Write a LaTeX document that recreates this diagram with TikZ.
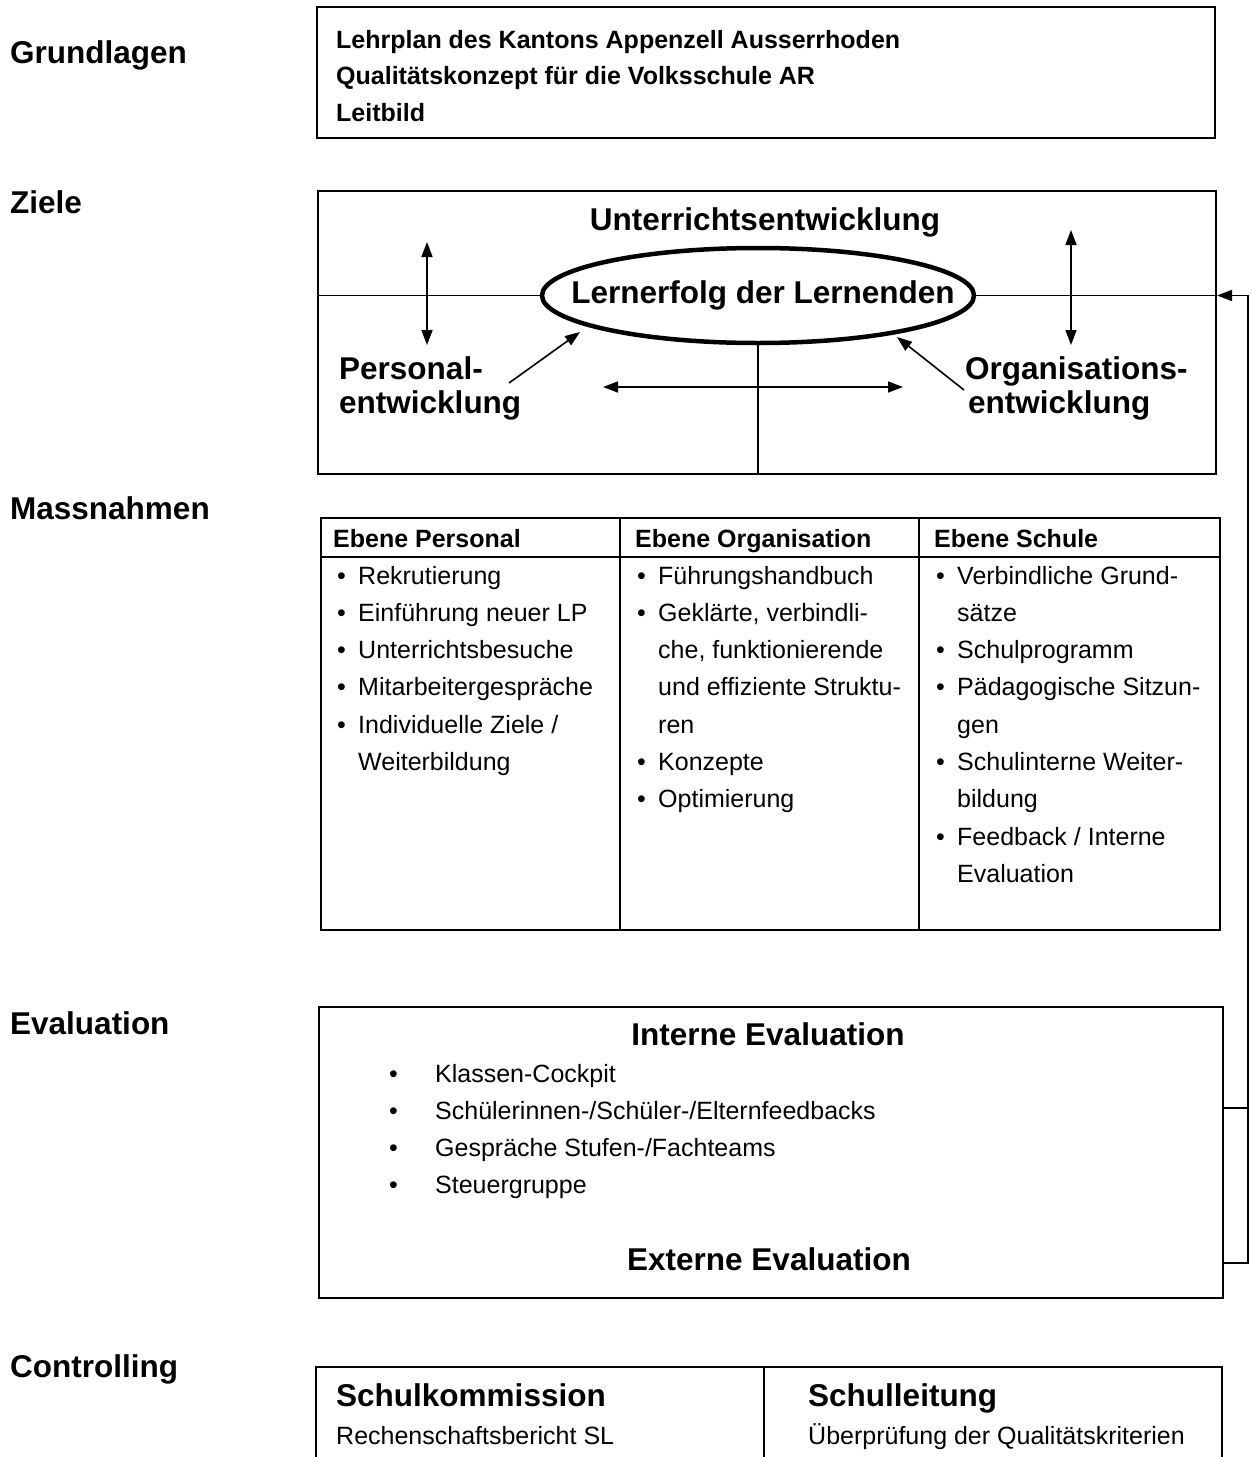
\documentclass[tikz,border=0pt]{standalone}
\usepackage{fontspec}
\setmainfont{Liberation Sans}
\usetikzlibrary{arrows.meta,shapes.geometric}
\begin{document}
\begin{tikzpicture}[x=1pt,y=-1pt,
  big/.style={font=\fontsize{31.5}{36}\selectfont\bfseries, inner sep=0pt, anchor=base west},
  txt/.style={font=\fontsize{25}{30}\selectfont, inner sep=0pt, anchor=base west},
  txtb/.style={font=\fontsize{25}{30}\selectfont\bfseries, inner sep=0pt, anchor=base west},
  frame/.style={draw, line width=2pt, inner sep=0pt, anchor=north west},
  tip/.tip={Triangle[length=15pt,width=11pt]},
  dbl/.style={line width=1.6pt, tip-tip},
  sgl/.style={line width=1.6pt, -tip},
  thinl/.style={line width=1.6pt}]
\useasboundingbox (0,0) rectangle (1251,1457);
\fill[white] (0,0) rectangle (1251,1457);

% left labels
\node[big] (lg) at (10,63) {Grundlagen};
\node[big] (lz) at (10,213) {Ziele};
\node[big] (lm) at (10,519) {Massnahmen};
\node[big] (le) at (10,1034) {Evaluation};
\node[big] (lc) at (10,1377) {Controlling};

% Grundlagen
\node[frame, minimum width=898pt, minimum height=131pt] (grund) at (316,6) {};
\node[txtb] (g1) at (336,48) {Lehrplan des Kantons Appenzell Ausserrhoden};
\node[txtb] (g2) at (336,84.5) {Qualitätskonzept für die Volksschule AR};
\node[txtb] (g3) at (336,121) {Leitbild};

% Ziele
\node[frame, minimum width=898pt, minimum height=283pt] (ziele) at (317,190) {};
\node[ellipse, draw, line width=4.5pt, minimum width=432pt, minimum height=95pt, inner sep=0pt] (ell) at (758,295.5) {};
\node[big, anchor=base] (lern) at (763,303) {Lernerfolg der Lernenden};
\node[big, anchor=base] (unt) at (765,230) {Unterrichtsentwicklung};
\node[big] (pe1) at (339,379) {Personal-};
\node[big] (pe2) at (339,413) {entwicklung};
\node[big] (oe1) at (965,379) {Organisations-};
\node[big] (oe2) at (968,413) {entwicklung};
\draw[thinl] (ziele.west |- ell.center) -- (ell.west);
\draw[thinl] (ell.east) -- (ziele.east |- ell.center);
\draw[thinl] (ell.south) -- (ell.south |- ziele.south);
\coordinate (lv1) at (427,242); \coordinate (lv2) at (427,345);
\coordinate (rv1) at (1071,230); \coordinate (rv2) at (1071,345);
\coordinate (h1) at (603,387); \coordinate (h2) at (903,387);
\coordinate (d1a) at (509,383); \coordinate (d1b) at (580,332);
\coordinate (d2a) at (964,390); \coordinate (d2b) at (897,337);
\draw[dbl] (lv1) -- (lv2);
\draw[dbl] (rv1) -- (rv2);
\draw[dbl] (h1) -- (h2);
\draw[sgl] (d1a) -- (d1b);
\draw[sgl] (d2a) -- (d2b);

% Massnahmen table
\node[frame, minimum width=899pt, minimum height=412pt] (tab) at (320,517) {};
\draw[thinl] (tab.west |- 0,557) -- (tab.east |- 0,557);
\draw[thinl] (620,517) -- (620,929);
\draw[thinl] (919,517) -- (919,929);
\node[txtb] (h1t) at (333,547) {Ebene Personal};
\node[txtb] (h2t) at (635,547) {Ebene Organisation};
\node[txtb] (h3t) at (934,547) {Ebene Schule};
% column 1
\foreach \t [count=\i from 0] in {Rekrutierung,Einführung neuer LP,Unterrichtsbesuche,Mitarbeitergespräche,{Individuelle Ziele /}}
  {\node[txt] (c1b\i) at (337,584+37.3*\i) {\textbullet};
   \node[txt] (c1t\i) at (358,584+37.3*\i) {\t};}
\node[txt] (c1x) at (358,584+37.3*5) {Weiterbildung};
% column 2
\foreach \t/\b [count=\i from 0] in {{Führungshandbuch}/1,{Geklärte, verbindli-}/1,{che, funktionierende}/0,{und effiziente Struktu-}/0,{ren}/0,{Konzepte}/1,{Optimierung}/1}
  {\ifnum\b=1 \node[txt] (c2b\i) at (637,584+37.3*\i) {\textbullet};\fi
   \node[txt] (c2t\i) at (658,584+37.3*\i) {\t};}
% column 3
\foreach \t/\b [count=\i from 0] in {{Verbindliche Grund-}/1,{sätze}/0,{Schulprogramm}/1,{Pädagogische Sitzun-}/1,{gen}/0,{Schulinterne Weiter-}/1,{bildung}/0,{Feedback / Interne}/1,{Evaluation}/0}
  {\ifnum\b=1 \node[txt] (c3b\i) at (936,584+37.3*\i) {\textbullet};\fi
   \node[txt] (c3t\i) at (957,584+37.3*\i) {\t};}

% Evaluation
\node[frame, minimum width=904pt, minimum height=291pt] (eval) at (318,1006) {};
\node[big, anchor=base] (ie) at (768,1045) {Interne Evaluation};
\foreach \t [count=\i from 0] in {Klassen-Cockpit,{Schülerinnen-/Schüler-/Elternfeedbacks},{Gespräche Stufen-/Fachteams},Steuergruppe}
  {\node[txt] (eb\i) at (389,1082+37*\i) {\textbullet};
   \node[txt] (et\i) at (435,1082+37*\i) {\t};}
\node[big, anchor=base] (ee) at (769,1270) {Externe Evaluation};

% feedback loop
\coordinate (fb1) at (eval.east |- 0,1108);
\coordinate (fb2) at (eval.east |- 0,1263);
\coordinate (fbr) at (1248,0);
\draw[thinl] (fb1) -- (fbr |- fb1);
\draw[sgl] (fb2) -- (fbr |- fb2) -- (fbr |- ell.center) -- (ziele.east |- ell.center);

% Controlling
\node[frame, minimum width=906pt, minimum height=130pt] (ctrl) at (315,1366) {};
\draw[thinl] (764,1366) -- (764,1497);
\node[big] (sk) at (336,1406) {Schulkommission};
\node[txt] (skt) at (336,1444) {Rechenschaftsbericht SL};
\node[big] (sl) at (808,1406) {Schulleitung};
\node[txt] (slt) at (808,1444) {Überprüfung der Qualitätskriterien};
\end{tikzpicture}
\end{document}
